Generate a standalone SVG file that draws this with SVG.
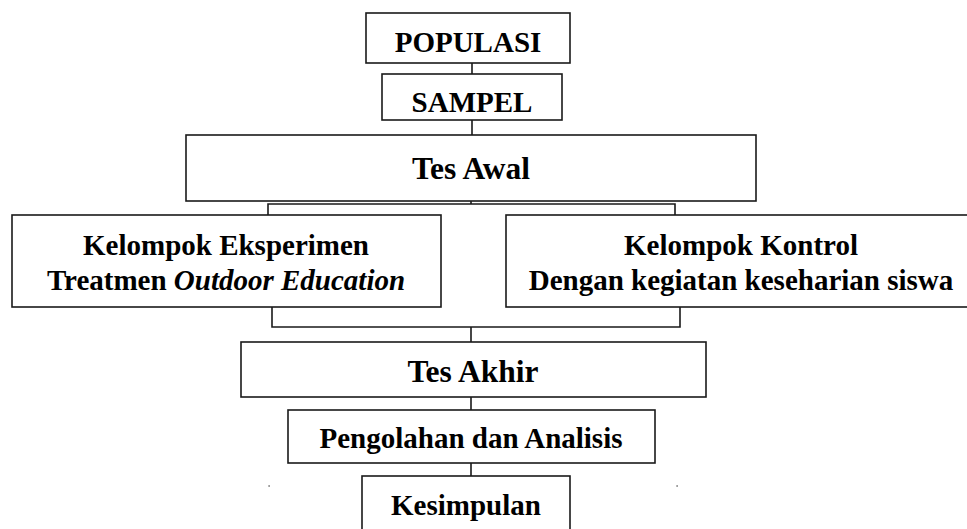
<svg xmlns="http://www.w3.org/2000/svg" width="967" height="529" viewBox="0 0 967 529">
<style>
.box{fill:#fff;stroke:#1a1a1a;stroke-width:1.6}
.ln{fill:none;stroke:#1a1a1a;stroke-width:1.6}
.t{font-family:"Liberation Serif","Times New Roman",serif;font-weight:bold;font-size:29px;fill:#000;text-anchor:middle}
.big{font-size:31.5px}
.it{font-style:italic}
</style>
<rect width="967" height="529" fill="#fff"/>
<g id="connectors">
<path class="ln" d="M472 63V74M472 120V135"/>
<path class="ln" d="M471 201V204M268 215V204H675V215"/>
<path class="ln" d="M272 307V327H680V307M471 327V342"/>
<path class="ln" d="M471 397V410M471 463V476"/>
</g>
<g id="populasi"><rect class="box" x="366" y="13" width="204" height="50"/><text class="t" x="468" y="52">POPULASI</text></g>
<g id="sampel"><rect class="box" x="382" y="74" width="180" height="46"/><text class="t" x="472" y="112">SAMPEL</text></g>
<g id="tes-awal"><rect class="box" x="186" y="135" width="570" height="66"/><text class="t big" x="471" y="179">Tes Awal</text></g>
<g id="eksperimen"><rect class="box" x="12" y="215" width="429" height="92"/><text class="t" x="226" y="255">Kelompok Eksperimen</text><text class="t" x="226" y="290">Treatmen <tspan class="it">Outdoor Education</tspan></text></g>
<g id="kontrol"><rect class="box" x="506" y="215" width="475" height="92"/><text class="t" x="741" y="255">Kelompok Kontrol</text><text class="t" x="741" y="290">Dengan kegiatan keseharian siswa</text></g>
<g id="tes-akhir"><rect class="box" x="241" y="342" width="465" height="55"/><text class="t big" x="473" y="382">Tes Akhir</text></g>
<g id="pengolahan"><rect class="box" x="288" y="410" width="367" height="53"/><text class="t" x="471" y="448">Pengolahan dan Analisis</text></g>
<g id="kesimpulan"><rect class="box" x="362" y="476" width="208" height="70"/><text class="t" x="466" y="515">Kesimpulan</text></g>
<rect x="268.5" y="485" width="1.2" height="2" fill="#777"/>
<rect x="676.5" y="485" width="1.2" height="2" fill="#777"/>
</svg>
